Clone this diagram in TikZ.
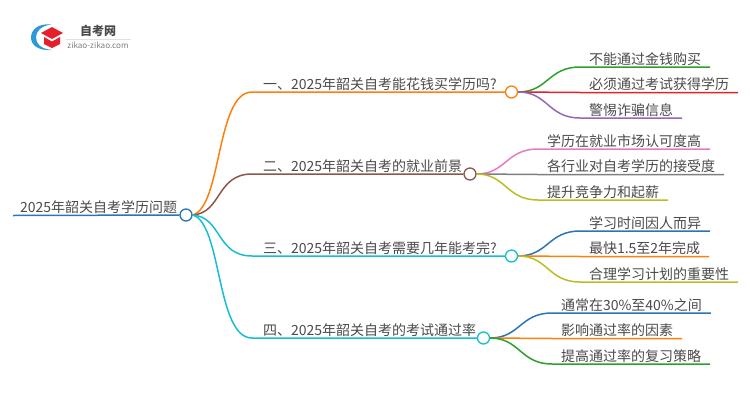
\documentclass[tikz,border=0pt]{standalone}
\usepackage{fontspec}
\setmainfont{Noto Sans CJK SC}
\usetikzlibrary{positioning}

\definecolor{mapblue}{HTML}{2A75B5}
\definecolor{maporange}{HTML}{FF7F0E}
\definecolor{mapbrown}{HTML}{8C564B}
\definecolor{mapcyan}{HTML}{17BECF}
\definecolor{mapgreen}{HTML}{2CA02C}
\definecolor{mapred}{HTML}{E3202B}
\definecolor{mappurple}{HTML}{9467BD}
\definecolor{mappink}{HTML}{E77AC5}
\definecolor{mapgrey}{HTML}{7F7F7F}
\definecolor{mapolive}{HTML}{BCBD22}
\definecolor{maptext}{HTML}{4A4A4A}
\definecolor{logoblue}{HTML}{2C9AD6}

\begin{document}
\begin{tikzpicture}
%defines
  [x=1pt,y=-1pt,
topic/.style={anchor=south west,inner xsep=9pt,inner ysep=0pt,outer sep=0pt,
text height=14pt,text depth=3pt,font=\fontsize{14}{14}\selectfont,text=maptext},
dot/.style={circle,draw=#1,fill=white,line width=1.3pt,inner sep=0pt,minimum size=12pt},
link/.style={draw=#1,line width=1.5pt}]
\useasboundingbox (0,0) rectangle (750,410);
%logo
\fill[logoblue] (51,24.5) .. controls (38,23) and (31,30) .. (31,37.5) .. controls (31,45) and (38,51) .. (52,50)
.. controls (41,49) and (36,44) .. (36,37.5) .. controls (36,31) and (41,26) .. cycle;
\fill[mapred] (52,27) -- (63,33) -- (52,39) -- (41,33) -- cycle;
\fill[mapred] (44,37) -- (52,41.5) -- (60,37) -- (60,44) -- (52,48) -- (44,44) -- cycle;
\node[inner sep=0pt,font=\fontsize{12}{12}\selectfont\bfseries,text=maptext] (logotitle) at (98,30.5) {自考网};
\node[inner sep=0pt,font=\fontsize{8.1}{8}\selectfont,text=mapgrey] (logosite) at (98,45) {zikao-zikao.com};
\draw[black!12,line width=0.5pt] (66,39) -- (131,39);
%root
\node[topic,inner xsep=7pt] (root) at (13,215.5) {2025年韶关自考学历问题};
\node[dot=mapblue] (rootdot) at (186,215) {};
%branches
\node[topic,inner xsep=0pt] (one) at (263,92.5) {一、2025年韶关自考能花钱买学历吗?};
\node[topic,inner xsep=0pt] (two) at (263,174.5) {二、2025年韶关自考的就业前景};
\node[topic,inner xsep=0pt] (three) at (263,256.5) {三、2025年韶关自考需要几年能考完?};
\node[topic,inner xsep=0pt] (four) at (263,338.5) {四、2025年韶关自考的考试通过率};
\node[dot=maporange] (onedot) at (511.5,92) {};
\node[dot=mapbrown] (twodot) at (470,174) {};
\node[dot=mapcyan] (threedot) at (511.5,256) {};
\node[dot=mapcyan] (fourdot) at (483.5,338) {};
%leaves
\node[topic] (onea) at (580,67) {不能通过金钱购买};
\node[topic] (oneb) at (580,92.5) {必须通过考试获得学历};
\node[topic] (onec) at (580,118) {警惕诈骗信息};
\node[topic] (twoa) at (538,149) {学历在就业市场认可度高};
\node[topic] (twob) at (538,174.5) {各行业对自考学历的接受度};
\node[topic] (twoc) at (538,200) {提升竞争力和起薪};
\node[topic] (threea) at (580,231) {学习时间因人而异};
\node[topic] (threeb) at (580,256.5) {最快1.5至2年完成};
\node[topic] (threec) at (580,282) {合理学习计划的重要性};
\node[topic] (foura) at (552,313) {通常在30\%至40\%之间};
\node[topic] (fourb) at (552,338.5) {影响通过率的因素};
\node[topic] (fourc) at (552,364) {提高通过率的复习策略};
%connectors
\draw[link=mapblue] (root.south west) -- (rootdot.west);
\draw[link=maporange] (rootdot.east) .. controls (222,207) and (216,92) .. (252,92) -- (onedot.west);
\draw[link=mapbrown] (rootdot.east) .. controls (222,213) and (216,174) .. (252,174) -- (twodot.west);
\draw[link=mapcyan] (rootdot.east) .. controls (222,217) and (216,256) .. (252,256) -- (threedot.west);
\draw[link=mapcyan] (rootdot.east) .. controls (222,223) and (216,338) .. (252,338) -- (fourdot.west);
\draw[link=mapgreen] (onedot.east) .. controls (548,92) and (548,67) .. (onea.south west) -- (onea.south east);
\draw[link=mapred] (onedot.east) -- (oneb.south west) -- (oneb.south east);
\draw[link=mappurple] (onedot.east) .. controls (548,92) and (548,118) .. (onec.south west) -- (onec.south east);
\draw[link=mappink] (twodot.east) .. controls (506,174) and (506,149) .. (twoa.south west) -- (twoa.south east);
\draw[link=mapgrey] (twodot.east) -- (twob.south west) -- (twob.south east);
\draw[link=mapolive] (twodot.east) .. controls (506,174) and (506,200) .. (twoc.south west) -- (twoc.south east);
\draw[link=mapblue] (threedot.east) .. controls (548,256) and (548,231) .. (threea.south west) -- (threea.south east);
\draw[link=maporange] (threedot.east) -- (threeb.south west) -- (threeb.south east);
\draw[link=mapolive] (threedot.east) .. controls (548,256) and (548,282) .. (threec.south west) -- (threec.south east);
\draw[link=mapblue] (fourdot.east) .. controls (520,338) and (520,313) .. (foura.south west) -- (foura.south east);
\draw[link=maporange] (fourdot.east) -- (fourb.south west) -- (fourb.south east);
\draw[link=mapgreen] (fourdot.east) .. controls (520,338) and (520,364) .. (fourc.south west) -- (fourc.south east);
\end{tikzpicture}
\end{document}
